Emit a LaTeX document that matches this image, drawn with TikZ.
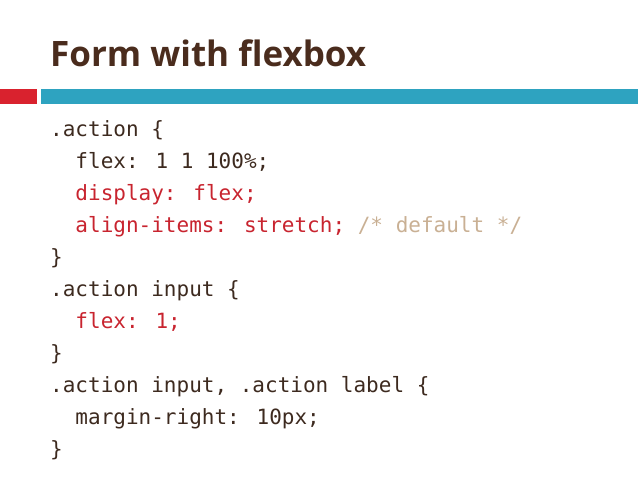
\documentclass[tikz,border=0pt]{standalone}
\usepackage{fontspec}
\setmainfont{Open Sans}
\newfontfamily\codefont{DejaVu Sans Mono}
\definecolor{ttl}{HTML}{4A2C1D}
\definecolor{cd}{HTML}{3D2A1F}
\definecolor{cr}{HTML}{C8242F}
\definecolor{cm}{HTML}{C9B094}
\definecolor{bl}{HTML}{2EA3C0}
\definecolor{rd}{HTML}{D9222E}
\begin{document}
\begin{tikzpicture}[x=1pt,y=-1pt,
  code/.style={anchor=base west,inner sep=0pt,font=\codefont\fontsize{21}{21}\selectfont,text=cd}]
\useasboundingbox (0,0) rectangle (638,479);
\fill[rd] (0,89) rectangle (37,104);
\fill[bl] (41,89) rectangle (638,104);
\node[anchor=base west,inner sep=0pt,text=ttl,font=\fontsize{35}{35}\selectfont\bfseries] (title) at (50,66) {Form with flexbox};
\node[code] (l1) at (50,136) {.action \{};
\node[code] (l2) at (50,168) {\ \ flex: 1 1 100\%;};
\node[code,text=cr] (l3) at (50,200) {\ \ display: flex;};
\node[code,text=cr] (l4) at (50,232) {\ \ align-items: stretch; \textcolor{cm}{/* default */}};
\node[code] (l5) at (50,264) {\}};
\node[code] (l6) at (50,296) {.action input \{};
\node[code,text=cr] (l7) at (50,328) {\ \ flex: 1;};
\node[code] (l8) at (50,360) {\}};
\node[code] (l9) at (50,392) {.action input, .action label \{};
\node[code] (l10) at (50,424) {\ \ margin-right: 10px;};
\node[code] (l11) at (50,456) {\}};
\end{tikzpicture}
\end{document}
